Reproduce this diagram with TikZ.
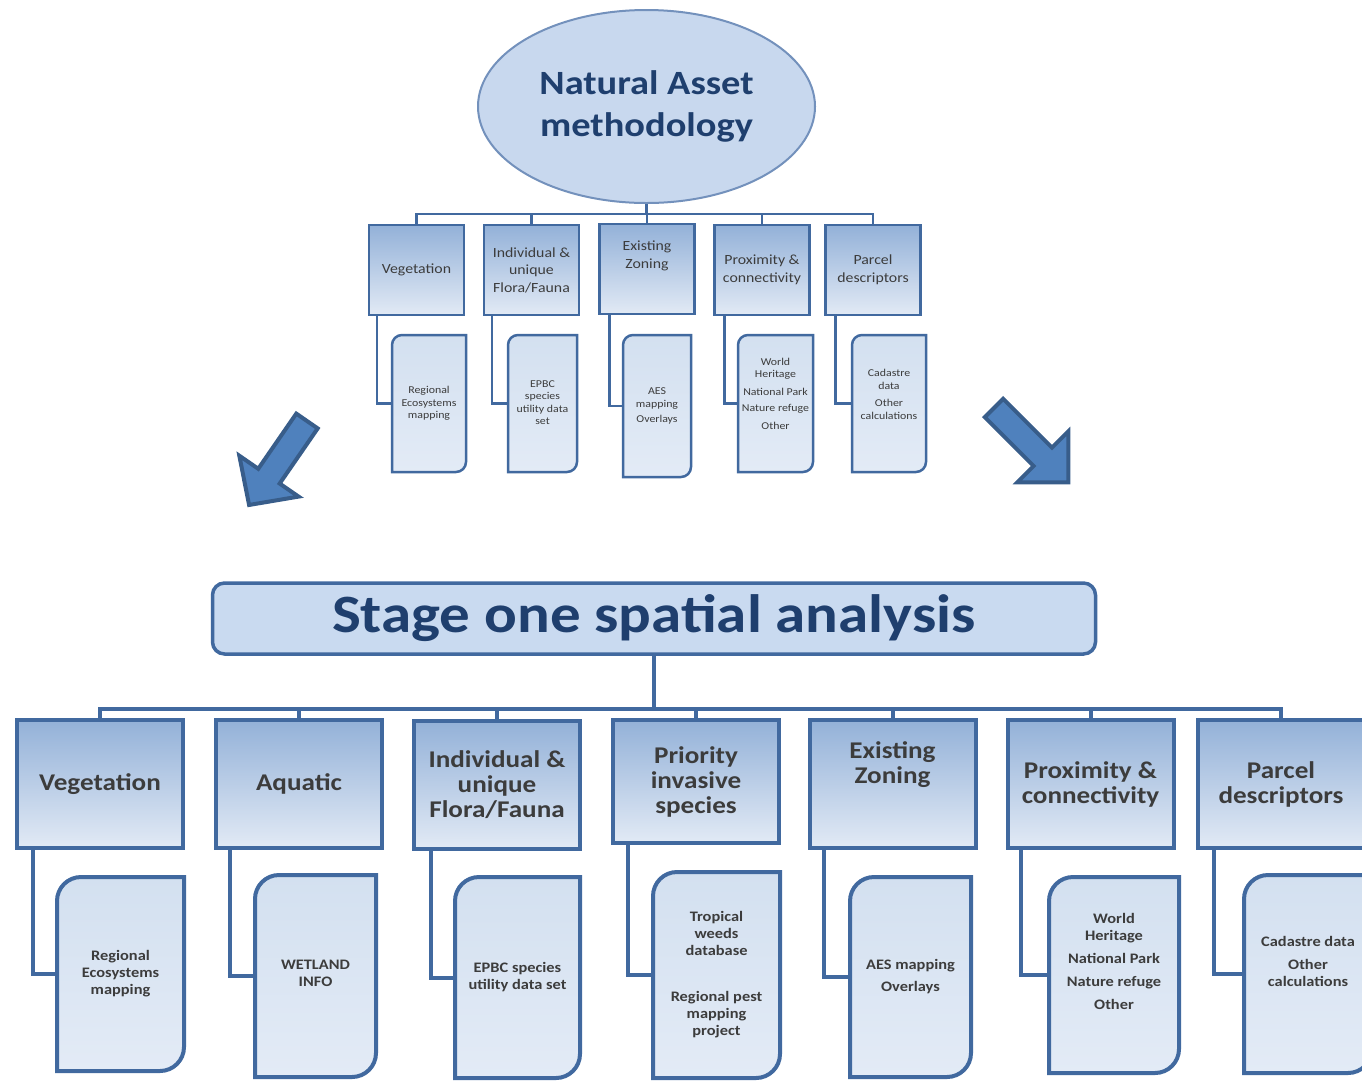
\documentclass[tikz,border=0pt]{standalone}
\usepackage{fontspec}
\setmainfont{Carlito}[FakeStretch=1.13]
\usetikzlibrary{shapes.geometric,calc}
\definecolor{ellF}{HTML}{C8D8EE}
\definecolor{ellB}{HTML}{7391BC}
\definecolor{titleC}{HTML}{1F3F6E}
\definecolor{boxB}{HTML}{41699F}
\definecolor{gTop}{HTML}{93B1D8}
\definecolor{gBot}{HTML}{E2EAF5}
\definecolor{sTop}{HTML}{D3E0F0}
\definecolor{sBot}{HTML}{E3EBF6}
\definecolor{stF}{HTML}{C9DAF0}
\definecolor{txt}{HTML}{3C3C3C}
\definecolor{arF}{HTML}{4F81BD}
\definecolor{arB}{HTML}{385D8A}
% style, name, x1, y1, x2, y2, radius, text offset, text
\newcommand\mysubbox[9]{%
  \draw[#1] ({#3},{#4+#7}) .. controls ({#3},{#4+0.448*#7}) and ({#3+0.448*#7},{#4}) .. ({#3+#7},{#4})
    -- ({#5},{#4}) -- ({#5},{#6-#7})
    .. controls ({#5},{#6-0.448*#7}) and ({#5-0.448*#7},{#6}) .. ({#5-#7},{#6})
    -- ({#3},{#6}) -- cycle;
  \node[inner sep=0, minimum width={(#5-#3)*1pt}, minimum height={(#6-#4)*1pt}] (#2) at ({(#3+#5)/2},{(#4+#6)/2}) {};
  \node[#1 text] (#2T) at ({(#3+#5)/2},{(#4+#6)/2+#8}) {#9};
}
\begin{document}
\begin{tikzpicture}[x=1pt,y=-1pt,
  ell/.style={ellipse, draw=ellB, line width=2, fill=ellF, minimum width=337, minimum height=193,
    inner sep=0, align=center, text=titleC, font=\fontsize{34}{42}\selectfont\bfseries},
  tbox/.style={rectangle, draw=boxB, line width=2.5, top color=gTop, bottom color=gBot,
    minimum width=95, minimum height=90, inner sep=0, align=center, text=txt, font=\fontsize{14}{17.5}\selectfont},
  ttext/.style={inner sep=0, align=center, text=txt, font=\fontsize{14}{17.5}\selectfont},
  tsub/.style={draw=boxB, line width=2.5, top color=sTop, bottom color=sBot},
  tsub text/.style={inner sep=0, align=center, text=txt, font=\fontsize{10.5}{12.5}\selectfont},
  tconn/.style={draw=boxB, line width=2.5},
  stage/.style={rectangle, rounded corners=12, draw=boxB, line width=3.5, fill=stF,
    minimum width=883, minimum height=71, inner sep=0, text=titleC, font=\fontsize{54}{58}\selectfont\bfseries},
  bbox/.style={rectangle, draw=boxB, line width=4, top color=gTop, bottom color=gBot,
    minimum width=166, minimum height=128, inner sep=0, align=center, text=txt, font=\fontsize{24}{25}\selectfont\bfseries},
  btext/.style={inner sep=0, align=center, text=txt, font=\fontsize{24}{25}\selectfont\bfseries},
  bsub/.style={draw=boxB, line width=4, top color=sTop, bottom color=sBot},
  bsub text/.style={inner sep=0, align=center, text=txt, font=\fontsize{14.5}{17}\selectfont\bfseries},
  bconn/.style={draw=boxB, line width=4},
  bigarrow/.style={draw=arB, line width=4, fill=arF, line join=miter}
]
\useasboundingbox (0,0) rectangle (1362,1080);

% ---------- top section ----------
\node[ell] (nam) at (646.5,106.5) {Natural Asset\\methodology};

\node[tbox] (tveg) at (416.5,270) {Vegetation};
\node[tbox] (tind) at (531.5,270) {Individual \&\\unique\\Flora/Fauna};
\node[tbox] (tex) at (647,269) {};
\node[ttext] (texT) at (647,256) {Existing\\Zoning};
\node[tbox] (tprox) at (762,270) {Proximity \&\\connectivity};
\node[tbox] (tpar) at (873,270) {Parcel\\descriptors};

\foreach \b in {tveg,tind,tex,tprox,tpar}
  \draw[tconn] (nam.south) -- ++(0,10) -| (\b.north);

\mysubbox{tsub}{tvegS}{392}{335}{466}{472}{10}{0}{Regional\\Ecosystems\\mapping}
\mysubbox{tsub}{tindS}{508}{335}{577}{472}{10}{-1}{EPBC\\species\\utility data\\set}
\mysubbox{tsub}{texS}{623}{335}{691}{477}{10}{0}{AES\\mapping\\[3pt]Overlays}
\mysubbox{tsub}{tproxS}{738}{335}{813}{472}{10}{-10}{World\\Heritage\\[5pt]National Park\\[4pt]Nature refuge\\[5pt]Other}
\mysubbox{tsub}{tparS}{852}{335}{926}{472}{10}{-9}{Cadastre\\data\\[5pt]Other\\calculations}

\draw[tconn] ([xshift=9pt]tveg.south west) |- (tvegS.west);
\draw[tconn] ([xshift=9pt]tind.south west) |- (tindS.west);
\draw[tconn] ([xshift=11pt]tex.south west) |- (texS.west);
\draw[tconn] ([xshift=11pt]tprox.south west) |- (tproxS.west);
\draw[tconn] ([xshift=11pt]tpar.south west) |- (tparS.west);

% ---------- arrows ----------
\begin{scope}[shift={(307,421)}, rotate=235.4]
  \draw[bigarrow] (0,-13) -- (67,-13) -- (67,-36) -- (102,0) -- (67,36) -- (67,13) -- (0,13) -- cycle;
\end{scope}
\begin{scope}[shift={(994,408)}, rotate=315]
  \draw[bigarrow] (0,-13) -- (69,-13) -- (69,-36) -- (105,0) -- (69,36) -- (69,13) -- (0,13) -- cycle;
\end{scope}

% ---------- bottom section ----------
\node[stage] (stg) at (654,618.5) {Stage one spatial analysis};

\node[bbox] (bveg) at (100,784) {Vegetation};
\node[bbox] (baq) at (299,784) {Aquatic};
\node[bbox] (bind) at (497,785) {Individual \&\\unique\\Flora/Fauna};
\node[bbox, minimum height=123] (bpri) at (696,781.5) {Priority\\invasive\\species};
\node[bbox] (bex) at (892.5,784) {};
\node[btext] (bexT) at (892.5,765) {Existing\\Zoning};
\node[bbox] (bprox) at (1090.5,784) {Proximity \&\\connectivity};
\node[bbox] (bpar) at (1281,784) {Parcel\\descriptors};

\foreach \b in {bveg,baq,bind,bpri,bex,bprox,bpar}
  \draw[bconn] (stg.south) -- ++(0,53) -| (\b.north);

\mysubbox{bsub}{bvegS}{57}{877}{184}{1071}{24}{0}{Regional\\Ecosystems\\mapping}
\mysubbox{bsub}{baqS}{255}{875}{376}{1077}{24}{-3}{WETLAND\\INFO}
\mysubbox{bsub}{bindS}{455}{877}{580}{1078}{24}{0}{EPBC species\\utility data set}
\mysubbox{bsub}{bpriS}{653}{872}{780}{1078}{24}{0}{Tropical\\weeds\\database\\[29pt]Regional pest\\mapping\\project}
\mysubbox{bsub}{bexS}{850}{877}{971}{1077}{24}{0}{AES mapping\\[5pt]Overlays}
\mysubbox{bsub}{bproxS}{1049}{877}{1179}{1073}{24}{-14}{World\\Heritage\\[6pt]National Park\\[6pt]Nature refuge\\[6pt]Other}
\mysubbox{bsub}{bparS}{1244}{875}{1372}{1073}{24}{-13}{Cadastre data\\[6pt]Other\\calculations}

\draw[bconn] ([xshift=18pt]bveg.south west) |- (bvegS.west);
\draw[bconn] ([xshift=16pt]baq.south west) |- (baqS.west);
\draw[bconn] ([xshift=19pt]bind.south west) |- (bindS.west);
\draw[bconn] ([xshift=17pt]bpri.south west) |- (bpriS.west);
\draw[bconn] ([xshift=16pt]bex.south west) |- (bexS.west);
\draw[bconn] ([xshift=15pt]bprox.south west) |- (bproxS.west);
\draw[bconn] ([xshift=18pt]bpar.south west) |- (bparS.west);
\end{tikzpicture}
\end{document}
